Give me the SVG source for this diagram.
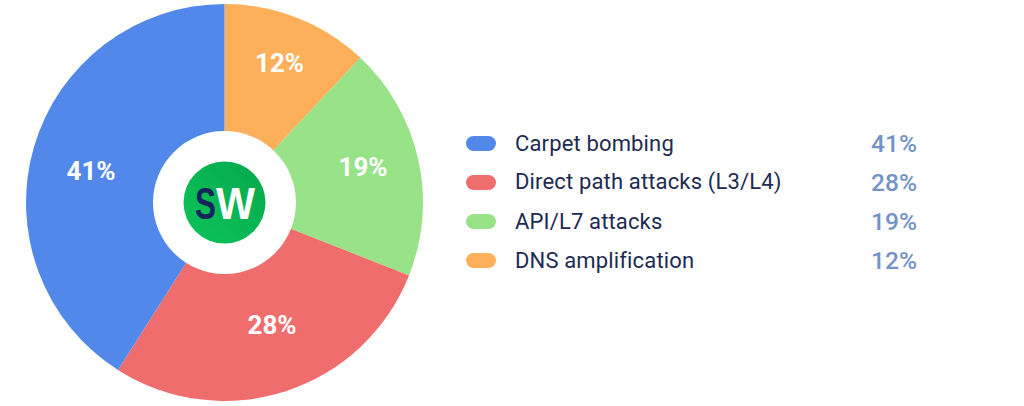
<svg xmlns="http://www.w3.org/2000/svg" width="1024" height="406" viewBox="0 0 1024 406">
<style>
text{font-family:Roboto,"Liberation Sans",sans-serif}
.p{font-size:26px;font-weight:700;fill:#fff;text-anchor:middle}
.l{font-size:22px;fill:#1d2b52;letter-spacing:.15px}
.v{font-size:24.5px;font-weight:500;fill:#7393c8;text-anchor:end}
.m{font-family:"Liberation Sans",sans-serif;font-size:44px;font-weight:700}
</style>
<defs><linearGradient id="g" x1="0" y1="1" x2="1" y2="0"><stop offset="0" stop-color="#0cc45a"/><stop offset="1" stop-color="#06a84c"/></linearGradient></defs>
<rect width="1024" height="406" fill="#fff"/>
<g id="pie">
<path id="slice-orange" d="M224.5 202.500V4A198.500 198.500 0 0 1 360.400 57.800Z" fill="#fdaf5a"/>
<path id="slice-green" d="M224.500 202.500L360.400 57.800A198.500 198.500 0 0 1 409 275.500Z" fill="#98e288"/>
<path id="slice-red" d="M224.500 202.500L409 275.500A198.500 198.500 0 0 1 118 370Z" fill="#ef6e6d"/>
<path id="slice-blue" d="M224.500 202.500L118 370A198.500 198.500 0 0 1 224.500 4Z" fill="#5388eb"/>
<text class="p" x="279.500" y="71.500">12%</text>
<text class="p" x="363" y="175.500">19%</text>
<text class="p" x="272" y="333.500">28%</text>
<text class="p" x="91" y="179.500">41%</text>
</g>
<g id="logo">
<circle cx="224.500" cy="202.500" r="71.500" fill="#fff"/>
<circle cx="224.500" cy="202.500" r="41" fill="url(#g)"/>
<text class="m" x="195" y="219" fill="#14245a" textLength="21" lengthAdjust="spacingAndGlyphs">S</text>
<text class="m" x="216" y="219" fill="#fff" textLength="39" lengthAdjust="spacingAndGlyphs">W</text>
</g>
<g id="legend-1"><rect x="466" y="136" width="30" height="15" rx="7.500" fill="#5388eb"/><text class="l" x="515" y="150.500">Carpet bombing</text><text class="v" x="917" y="152">41%</text></g>
<g id="legend-2"><rect x="466" y="175" width="30" height="15" rx="7.500" fill="#ef6e6d"/><text class="l" x="515" y="189">Direct path attacks (L3/L4)</text><text class="v" x="917" y="191">28%</text></g>
<g id="legend-3"><rect x="466" y="214" width="30" height="15" rx="7.500" fill="#98e288"/><text class="l" x="515" y="228.500">API/L7 attacks</text><text class="v" x="917" y="230">19%</text></g>
<g id="legend-4"><rect x="466" y="253" width="30" height="15" rx="7.500" fill="#fdaf5a"/><text class="l" x="515" y="267.500">DNS amplification</text><text class="v" x="917" y="269">12%</text></g>
</svg>
